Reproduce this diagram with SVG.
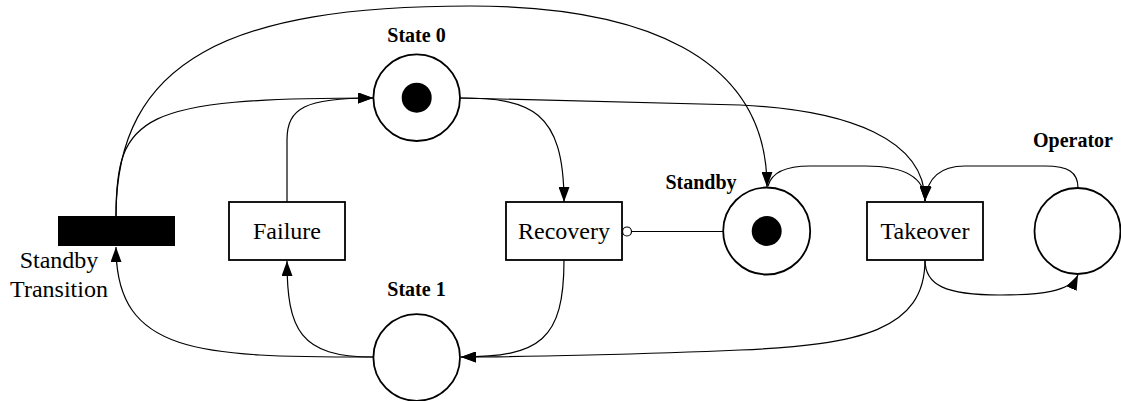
<svg xmlns="http://www.w3.org/2000/svg" width="1121" height="401" viewBox="0 0 1121 401">
<style>
.place{fill:#fff;stroke:#000;stroke-width:1.8}
.token{fill:#000}
.trans{fill:#fff;stroke:#000;stroke-width:1.8}
.bar{fill:#000}
.lbl{font-family:"Liberation Serif","Times New Roman",serif;font-size:24px;fill:#000;text-anchor:middle}
.blbl{font-family:"Liberation Serif","Times New Roman",serif;font-size:20px;font-weight:bold;fill:#000;text-anchor:middle}
.arc{fill:none;stroke:#000;stroke-width:1.2}
.arr{marker-end:url(#ah)}
</style>
<defs>
<marker id="ah" markerUnits="userSpaceOnUse" markerWidth="15" markerHeight="11" refX="15" refY="5.5" orient="auto" viewBox="0 0 15 11">
<path d="M0,0 L15,5.5 L0,11 z" fill="#000"/>
</marker>
</defs>
<g id="connectors">
<path class="arc" d="M116,216 C116,60 230,6 470,6 C640,6 767,55 767,187" marker-end="url(#ah)"/>
<path class="arc" d="M116,216 C116,115 140,98 373,98" marker-end="url(#ah)"/>
<path class="arc" d="M287,202 L287,140 C287,108 305,98 373,98" marker-end="url(#ah)"/>
<path class="arc" d="M460,98 C530,98 564,110 564,202" marker-end="url(#ah)"/>
<path class="arc" d="M460,98 L740,105 C850,110 925,140 925,201" marker-end="url(#ah)"/>
<path class="arc" d="M768,186 C772,170 790,166 810,166 L865,166 C905,166 925,178 925,201" marker-end="url(#ah)"/>
<path class="arc" d="M1078,188 C1078,172 1068,166 1045,166 L965,166 C940,166 927,178 925,201" marker-end="url(#ah)"/>
<path class="arc" d="M925,260 C925,285 945,295 1000,295 C1040,295 1070,292 1078,275" marker-end="url(#ah)"/>
<path class="arc" d="M925,260 C925,330 860,345 740,350 C650,354 520,357 461,357" marker-end="url(#ah)"/>
<path class="arc" d="M564,260 C564,340 540,357 461,357" marker-end="url(#ah)"/>
<path class="arc" d="M373,357 C300,357 287,330 287,261" marker-end="url(#ah)"/>
<path class="arc" d="M373,357 C200,357 116,355 116,247" marker-end="url(#ah)"/>
<line class="arc" x1="632" y1="231.5" x2="723" y2="231.5"/>
<circle cx="627" cy="231.5" r="4.5" fill="#fff" stroke="#000" stroke-width="1.2"/>
</g>
<g id="standby-transition">
<rect class="bar" x="58" y="216" width="117" height="30"/>
<text class="lbl" x="59" y="268">Standby</text>
<text class="lbl" x="59" y="297">Transition</text>
</g>
<g id="failure">
<rect class="trans" x="229" y="202" width="116" height="58"/>
<text class="lbl" x="287" y="239">Failure</text>
</g>
<g id="recovery">
<rect class="trans" x="506" y="202" width="116" height="58"/>
<text class="lbl" x="564" y="239">Recovery</text>
</g>
<g id="takeover">
<rect class="trans" x="867" y="202" width="116" height="58"/>
<text class="lbl" x="925" y="239">Takeover</text>
</g>
<g id="state0">
<circle class="place" cx="416.7" cy="97.7" r="43.3"/>
<circle class="token" cx="416.7" cy="97.7" r="15"/>
<text class="blbl" x="416.5" y="42">State 0</text>
</g>
<g id="state1">
<circle class="place" cx="416.7" cy="357.5" r="43.3"/>
<text class="blbl" x="416.5" y="296">State 1</text>
</g>
<g id="standby">
<circle class="place" cx="766.7" cy="231" r="43.5"/>
<circle class="token" cx="766.7" cy="231" r="15"/>
<text class="blbl" x="701" y="189">Standby</text>
</g>
<g id="operator">
<circle class="place" cx="1077.5" cy="231" r="43"/>
<text class="blbl" x="1073" y="147">Operator</text>
</g>
</svg>
